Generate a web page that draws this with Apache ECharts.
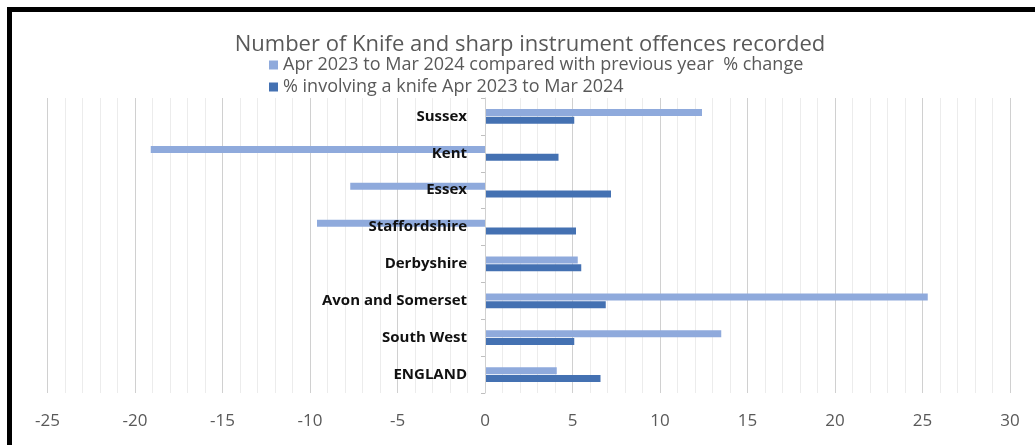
<!DOCTYPE html>
<html>
<head>
<meta charset="utf-8">
<script src="https://cdn.jsdelivr.net/npm/echarts@6/dist/echarts.min.js"></script>
<style>
html,body{margin:0;padding:0;background:#fff;}
#chart{width:1035px;height:445px;}
</style>
</head>
<body>
<div id="chart"></div>
<script>
const categories = ['Sussex', 'Kent', 'Essex', 'Staffordshire', 'Derbyshire', 'Avon and Somerset', 'South West', 'ENGLAND'];
const changeValues = [12.4, -19.1, -7.7, -9.6, 5.3, 25.3, 13.5, 4.1];
const knifeValues = [5.1, 4.2, 7.2, 5.2, 5.5, 6.9, 5.1, 6.6];
const seriesNames = ['Apr 2023 to Mar 2024 compared with previous year  % change', '% involving a knife Apr 2023 to Mar 2024'];
const titleText = 'Number of Knife and sharp instrument offences recorded';

const chart = echarts.init(document.getElementById('chart'));
const FONT = '"Open Sans", "Liberation Sans", sans-serif';
const GRID_LEFT = 47.5;
const option = {
  animation: false,
  backgroundColor: '#ffffff',
  title: {
    text: titleText,
    left: 525, top: 29, textAlign: 'center',
    textStyle: {fontFamily: FONT, fontSize: 22, fontWeight: 'normal', color: '#595959'}
  },
  legend: {
    orient: 'vertical',
    left: 264, top: 51,
    itemWidth: 9, itemHeight: 9, itemGap: 4,
    icon: 'rect',
    data: seriesNames,
    textStyle: {fontFamily: FONT, fontSize: 18, color: '#595959', lineHeight: 18}
  },
  grid: {left: GRID_LEFT, right: 25, top: 98, bottom: 52, containLabel: false, outerBoundsMode: 'none'},
  xAxis: {
    type: 'value', min: -25, max: 30, interval: 5,
    axisLine: {show: false}, axisTick: {show: false},
    axisLabel: {fontFamily: FONT, fontSize: 17, color: '#595959', margin: 20},
    splitLine: {show: true, lineStyle: {color: '#d0d0d0', width: 1}},
    minorTick: {show: false, splitNumber: 5},
    minorSplitLine: {show: true, lineStyle: {color: '#ececec', width: 1}}
  },
  yAxis: {
    type: 'category', data: categories, inverse: true, z: 10,
    axisLine: {show: true, onZero: false, lineStyle: {color: '#d0d0d0'}},
    axisTick: {show: true, length: 4, lineStyle: {color: '#bfbfbf'}},
    axisLabel: {fontFamily: FONT, fontSize: 15, fontWeight: 'bold', color: '#111111', margin: 18},
    splitLine: {show: false}
  },
  series: [
    {name: seriesNames[0], type: 'bar', data: changeValues, barWidth: 7, barGap: '10%',
     itemStyle: {color: '#8FAADC'}},
    {name: seriesNames[1], type: 'bar', data: knifeValues, barWidth: 7, barGap: '10%',
     itemStyle: {color: '#4471B2'}}
  ],
  graphic: [
    {type: 'rect', shape: {x: 7, y: 7, width: 1028, height: 5}, style: {fill: '#000'}, z: 100},
    {type: 'rect', shape: {x: 7, y: 7, width: 5, height: 438}, style: {fill: '#000'}, z: 100}
  ]
};
chart.setOption(option);
// place the category axis (line, ticks, labels) at the zero of the value axis
const zeroPx = chart.convertToPixel({xAxisIndex: 0}, 0);
chart.setOption({yAxis: {offset: -(zeroPx - GRID_LEFT)}});
</script>
</body>
</html>
